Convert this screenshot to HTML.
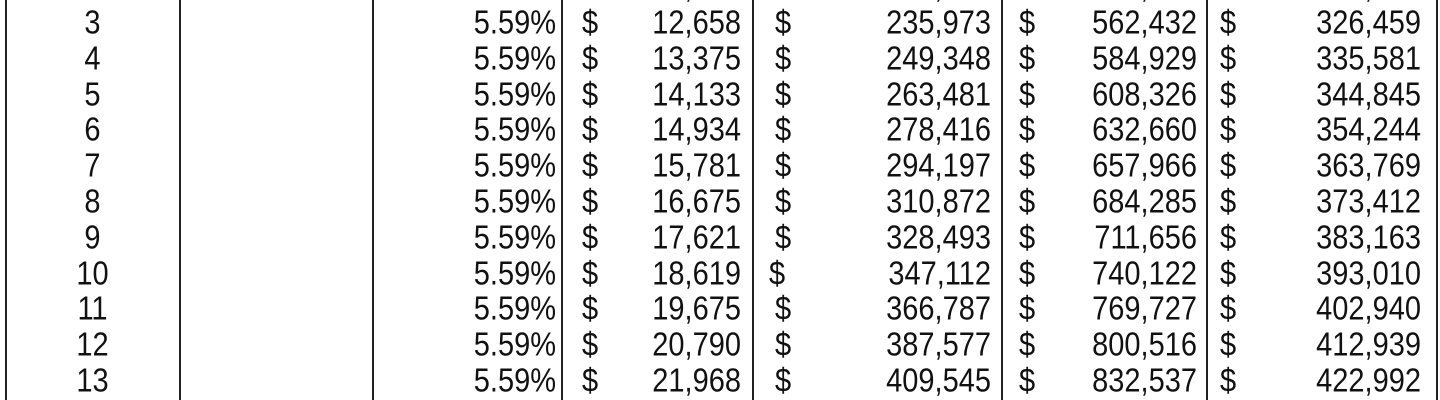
<!DOCTYPE html>
<html><head><meta charset="utf-8"><style>
body{margin:0;width:1440px;height:400px;overflow:hidden;background:#fff;position:relative;font-family:"Liberation Sans",Arial,sans-serif;color:#111}
.v{position:absolute;top:0;height:400px;width:1.5px;background:#222}
.t{position:absolute;font-size:29px;line-height:30px;white-space:nowrap;transform:scaleY(1.15)}
.r{text-align:right}
</style></head><body>
<script>
const years=[2,3,4,5,6,7,8,9,10,11,12,13];
const rates=["5.59%","5.59%","5.59%","5.59%","5.59%","5.59%","5.59%","5.59%","5.59%","5.59%","5.59%","5.59%"];
const colA=["11,988","12,658","13,375","14,133","14,934","15,781","16,675","17,621","18,619","19,675","20,790","21,968"];
const colB=["223,480","235,973","249,348","263,481","278,416","294,197","310,872","328,493","347,112","366,787","387,577","409,545"];
const colC=["540,826","562,432","584,929","608,326","632,660","657,966","684,285","711,656","740,122","769,727","800,516","832,537"];
const colD=["317,456","326,459","335,581","344,845","354,244","363,769","373,412","383,163","393,010","402,940","412,939","422,992"];
const lines=[5,179,372,561,752,1001,1206,1436];
lines.forEach((x,i)=>{const d=document.createElement('div');d.className='v';d.style.left=x+'px';


document.body.appendChild(d);});
function cell(txt,x,y,right,name){const d=document.createElement('div');d.className='t'+(right?' r':'');
d.textContent=txt;d.style.top=(y-15)+'px';
if(right){d.style.right=(1440-x)+'px';}else{d.style.left=x+'px';}


document.body.appendChild(d);}
years.forEach((yr,i)=>{
 const y=23+(yr-3)*35.8;
 const w=document.createElement('div');w.className='t';w.style.left='40px';w.style.width='105px';w.style.textAlign='center';w.style.top=(y-15)+'px';w.textContent=yr;
 
 
 document.body.appendChild(w);
 cell(rates[i],556,y,true,'rate-cell');
 cell('$',582,y,false,'dollar-sign');
 cell(colA[i],741,y,true,'payment-cell');
 cell('$',yr==10?769:775,y,false,'dollar-sign');
 cell(colB[i],991,y,true,'value-b-cell');
 cell('$',1019,y,false,'dollar-sign');
 cell(colC[i],1197,y,true,'value-c-cell');
 cell('$',1220,y,false,'dollar-sign');
 cell(colD[i],1421,y,true,'value-d-cell');
});
</script>
</body></html>
